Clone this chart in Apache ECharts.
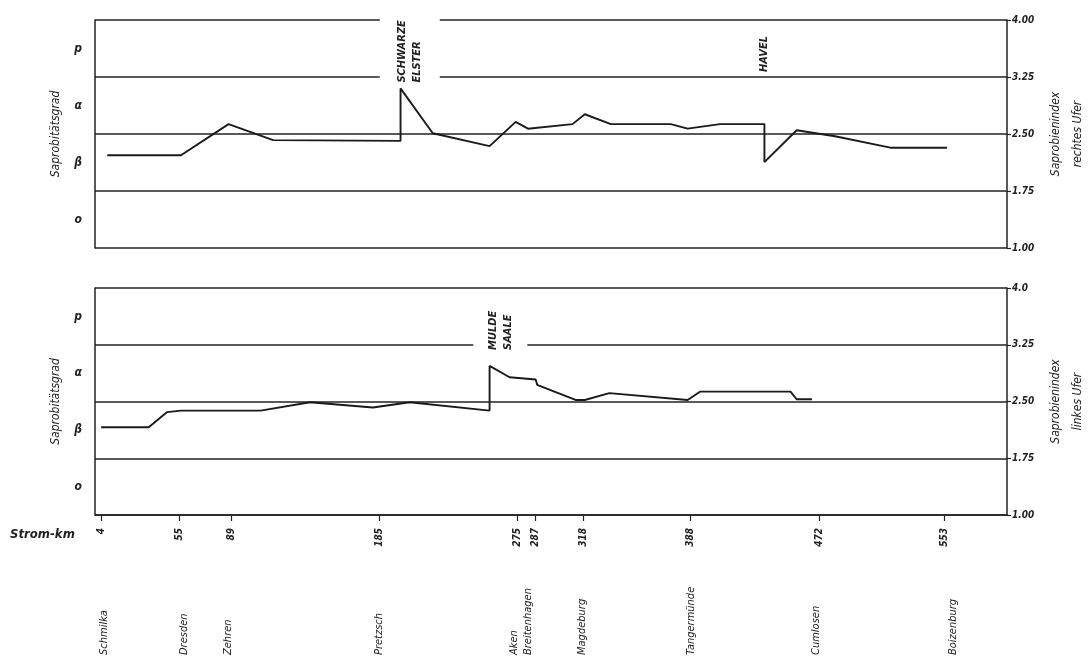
<!DOCTYPE html>
<html><head><meta charset="utf-8">
<script src="https://cdn.jsdelivr.net/npm/echarts@6/dist/echarts.min.js"></script>
<style>html,body{margin:0;padding:0;background:#fff}#c{width:1092px;height:664px}</style>
</head><body><div id="c"></div>
<script>
// ---- data ----
const topKm  = [8,56,87,116,199,199,220,257,274,282,311,319,336,375,386,407,436,436,457,482,518,555];
const topIdx = [2.22,2.22,2.63,2.42,2.41,3.10,2.51,2.34,2.66,2.57,2.63,2.76,2.63,2.63,2.57,2.63,2.63,2.13,2.55,2.47,2.32,2.32];
const botKm  = [4,35,47,56,108,140,181,205,257,257,270,287,288,313,319,335,386,394,453,457,467];
const botIdx = [2.16,2.16,2.36,2.38,2.38,2.49,2.42,2.49,2.38,2.97,2.82,2.79,2.72,2.52,2.52,2.61,2.52,2.63,2.63,2.53,2.53];
const kmTicks = [4,55,89,185,275,287,318,388,472,553];
const places  = ['Schmilka','Dresden','Zehren','Pretzsch','Aken','Breitenhagen','Magdeburg','Tangermünde','Cumlosen','Boizenburg'];
const placeKm = [6,58,87,185,273,282,317,388,470,559];
const gradeLabels  = ['o','β','α','p'];
const gradeCenters = [1.375,2.125,2.875,3.625];
const rightTopLabels = ['1.00','1.75','2.50','3.25','4.00'];
const rightBotLabels = ['1.00','1.75','2.50','3.25','4.0'];
const annTop = [{text:'SCHWARZE\nELSTER', km:205, idx:3.15, pad:[7,2,23,2]},
                {text:'HAVEL', km:436, idx:3.29, pad:[2,2,2,2]}];
const annBot = [{text:'MULDE\nSAALE', km:264, idx:3.155, pad:[14,2,10,2]}];

// ---- style ----
const FF = "'DejaVu Sans Condensed','Liberation Sans Narrow','DejaVu Sans',sans-serif";
const INK = '#222';
const txt = (size, bold) => ({fontFamily:FF, fontStyle:'italic', fontWeight: bold?'bold':'normal', fontSize:size, color:INK});

function leftAxis(g){
  return {gridIndex:g, type:'value', min:1, max:4, interval:0.375, position:'left',
    axisLine:{show:true, lineStyle:{color:INK, width:1.5}}, axisTick:{show:false}, splitLine:{show:false},
    axisLabel:Object.assign(txt(12,true),{margin:13, formatter:v=>{const i=gradeCenters.findIndex(c=>Math.abs(c-v)<1e-6);return i>=0?gradeLabels[i]:'';}}),
    name:'Saprobitätsgrad', nameLocation:'middle', nameRotate:90, nameGap:33, nameTextStyle:txt(12,false)};
}
function rightAxis(g, labels, name){
  return {gridIndex:g, type:'value', min:1, max:4, interval:0.75, position:'right',
    axisLine:{show:true, lineStyle:{color:INK, width:1.5}}, axisTick:{show:true, length:4, lineStyle:{color:INK,width:1.2}},
    splitLine:{show:true, lineStyle:{color:INK, width:1.5}},
    axisLabel:Object.assign(txt(10,true),{margin:5, formatter:v=>labels[Math.round((v-1)/0.75)]}),
    name:name, nameLocation:'middle', nameRotate:90, nameGap:38, nameTextStyle:Object.assign(txt(12,false),{lineHeight:22})};
}

const chart = echarts.init(document.getElementById('c'), null, {renderer:'canvas'});
const option = {
  animation:false,
  backgroundColor:'#fff',
  grid:[
    {left:95, right:85, top:20, height:228, outerBoundsMode:'none', containLabel:false},
    {left:95, right:85, top:288, height:227, outerBoundsMode:'none', containLabel:false},
    {left:95, right:85, top:657, height:1, outerBoundsMode:'none', containLabel:false}
  ],
  xAxis:[
    {gridIndex:0, type:'value', min:0, max:594, show:false},
    {gridIndex:1, type:'value', min:0, max:594, position:'bottom',
      axisLine:{show:true, lineStyle:{color:INK, width:1.5}},
      axisTick:{show:true, length:6, customValues:kmTicks, lineStyle:{color:INK,width:1.2}},
      splitLine:{show:false},
      axisLabel:Object.assign(txt(10,true),{customValues:kmTicks, rotate:90, margin:13, formatter:v=>String(v)})},
    {gridIndex:2, type:'value', min:0, max:594, position:'top',
      axisLine:{show:false}, axisTick:{show:false}, splitLine:{show:false},
      axisLabel:Object.assign(txt(11,false),{customValues:placeKm, rotate:90, margin:2,
        formatter:v=>{const i=placeKm.indexOf(Math.round(v));return i>=0?places[i]:'';}})}
  ],
  yAxis:[
    leftAxis(0),
    rightAxis(0, rightTopLabels, 'Saprobienindex\nrechtes Ufer'),
    leftAxis(1),
    rightAxis(1, rightBotLabels, 'Saprobienindex\nlinkes Ufer'),
    {gridIndex:2, type:'value', show:false}
  ],
  series:[
    {type:'line', xAxisIndex:0, yAxisIndex:1, showSymbol:false, symbol:'none',
      lineStyle:{color:'#1a1a1a', width:1.9}, data:topKm.map((k,i)=>[k,topIdx[i]])},
    {type:'line', xAxisIndex:1, yAxisIndex:3, showSymbol:false, symbol:'none',
      lineStyle:{color:'#1a1a1a', width:1.9}, data:botKm.map((k,i)=>[k,botIdx[i]])}
  ]
};
chart.setOption(option);

function annGraphic(list, grid){
  return list.map(a=>{
    const p = chart.convertToPixel({gridIndex:grid},[a.km,a.idx]);
    return {type:'text', x:p[0], y:p[1], rotation:Math.PI/2, z:100,
      style:{text:a.text, fill:INK, font:"italic bold 11px "+FF, align:'left', verticalAlign:'middle',
        lineHeight:15, backgroundColor:'#fff', padding:a.pad}};
  });
}
chart.setOption({graphic:[
  ...annGraphic(annTop,0), ...annGraphic(annBot,1),
  {type:'text', left:10, top:528, style:{text:'Strom-km', fill:INK, font:"italic bold 13px "+FF}}
]});
</script>
</body></html>
